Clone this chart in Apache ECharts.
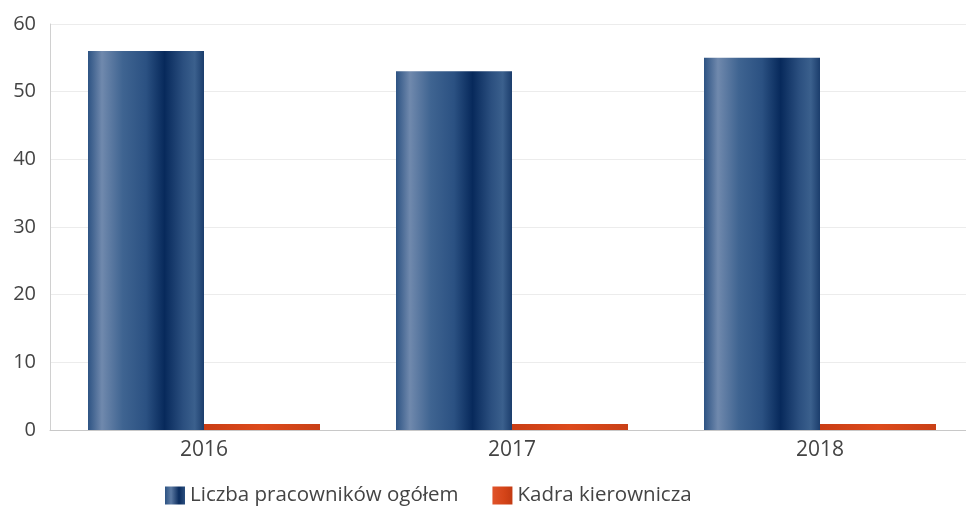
<!DOCTYPE html>
<html>
<head>
<meta charset="utf-8">
<script src="https://cdn.jsdelivr.net/npm/echarts@6/dist/echarts.min.js"></script>
<style>html,body{margin:0;padding:0;background:#fff;overflow:hidden;}#c{width:974px;height:506px;}</style>
</head>
<body>
<div id="c"></div>
<script>
var categories = ['2016', '2017', '2018'];
var seriesNames = ['Liczba pracowników ogółem', 'Kadra kierownicza'];
var totalEmployees = [56, 53, 55];
var management = [0.9, 0.9, 0.9];
var yTicks = [0, 10, 20, 30, 40, 50, 60];

var blueGrad = new echarts.graphic.LinearGradient(0, 0, 1, 0, [
  {offset: 0, color: '#2d5383'},
  {offset: 0.12, color: '#7089ad'},
  {offset: 0.3, color: '#3f6491'},
  {offset: 0.5, color: '#2b5182'},
  {offset: 0.66, color: '#07295b'},
  {offset: 0.82, color: '#2b4f7f'},
  {offset: 0.92, color: '#3b608d'},
  {offset: 1, color: '#1b3d6c'}
]);
var redGrad = new echarts.graphic.LinearGradient(0, 0, 1, 0, [
  {offset: 0, color: '#c93d14'},
  {offset: 0.5, color: '#dd4a1c'},
  {offset: 1, color: '#c94016'}
]);
var blueIcon = new echarts.graphic.LinearGradient(0, 0, 1, 0, [
  {offset: 0, color: '#2d5383'},
  {offset: 0.3, color: '#5c7aa3'},
  {offset: 0.7, color: '#0a2c5e'},
  {offset: 1, color: '#2b4f7f'}
]);
var redIcon = new echarts.graphic.LinearGradient(0, 0, 1, 0, [
  {offset: 0, color: '#e0532a'},
  {offset: 0.6, color: '#d44418'},
  {offset: 1, color: '#c23a12'}
]);

var chart = echarts.init(document.getElementById('c'));
chart.setOption({
  animation: false,
  grid: {left: 50, top: 24, right: 0, bottom: 76, containLabel: false},
  legend: {
    left: 160, top: 480,
    icon: 'rect',
    itemWidth: 20, itemHeight: 18, itemGap: 34,
    textStyle: {fontFamily: 'Open Sans', fontSize: 20.5, color: '#444'},
    data: [
      {name: seriesNames[0], itemStyle: {color: blueIcon}},
      {name: seriesNames[1], itemStyle: {color: redIcon}}
    ]
  },
  xAxis: {
    type: 'category',
    data: categories,
    axisLine: {lineStyle: {color: '#c8c8c8', width: 1}},
    axisTick: {show: false},
    axisLabel: {fontFamily: 'Open Sans', fontSize: 21, color: '#444', margin: 10}
  },
  yAxis: {
    type: 'value',
    min: yTicks[0], max: yTicks[yTicks.length - 1], interval: 10,
    axisLine: {show: true, lineStyle: {color: '#d0d0d0'}},
    axisTick: {show: false},
    splitLine: {lineStyle: {color: '#ececec'}},
    axisLabel: {fontFamily: 'Open Sans', fontSize: 20, color: '#444', margin: 14}
  },
  series: [
    {name: seriesNames[0], type: 'bar', data: totalEmployees, barWidth: 116, barGap: '0%',
     itemStyle: {color: blueGrad}},
    {name: seriesNames[1], type: 'bar', data: management, barWidth: 116, barGap: '0%',
     itemStyle: {color: redGrad}}
  ]
});
</script>
</body>
</html>
